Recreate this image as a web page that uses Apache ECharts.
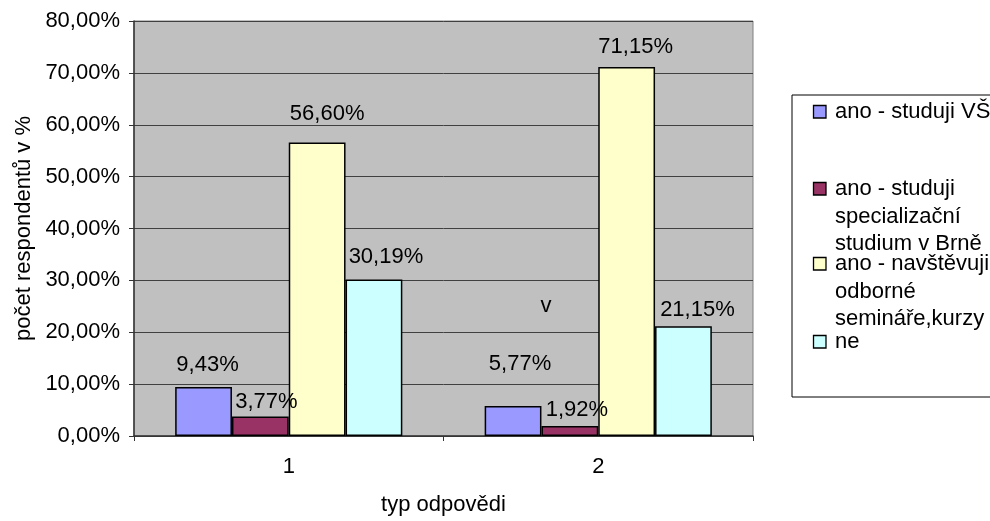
<!DOCTYPE html>
<html>
<head>
<meta charset="utf-8">
<script src="https://cdn.jsdelivr.net/npm/echarts@6/dist/echarts.min.js"></script>
<style>
  html, body { margin: 0; padding: 0; background: #fff; }
  #chart { width: 990px; height: 521px; }
</style>
</head>
<body>
<div id="chart"></div>
<script>
// Answer types on the x axis
const categories = ['1', '2'];

// Series names (legend text, wrapped as shown in the legend box)
const seriesNames = [
  'ano - studuji VŠ',
  'ano - studuji\nspecializační\nstudium v Brně',
  'ano - navštěvuji\nodborné\nsemináře,kurzy',
  'ne'
];

// Share of respondents in percent, per answer type
const studujiVS = [9.43, 5.77];
const specializacni = [3.77, 1.92];
const seminare = [56.60, 71.15];
const ne = [30.19, 21.15];

const seriesValues = [studujiVS, specializacni, seminare, ne];

// Y axis range
const yMin = 0, yMax = 80, yStep = 10;

// Styling
const FONT = 'Liberation Sans, Arial, sans-serif';
const FS = 22;
const colors = ['#9999FF', '#993366', '#FFFFCC', '#CCFFFF'];
// label nudges [dx, dy] per series, per category
const labelOffsets = [
  [[4, -11.5], [7, -31.5]],
  [[6, -4.5], [7, -5.5]],
  [[10, -17.5], [9, -9.5]],
  [[12, -11.5], [14, -5.5]]
];
const legendTop = [105, 182, 257, 335];

const fmtPct = v => v.toFixed(2).replace('.', ',') + '%';

const series = seriesValues.map((vals, i) => ({
  name: seriesNames[i].replace(/\n/g, ' '),
  type: 'bar',
  barGap: '0%',
  barCategoryGap: '26.6%',
  itemStyle: { color: colors[i], borderColor: '#000', borderWidth: 1.5 },
  data: vals.map((v, j) => ({
    value: v,
    label: {
      show: true,
      position: 'top',
      distance: 0,
      offset: labelOffsets[i][j],
      formatter: p => fmtPct(p.value),
      color: '#000',
      fontFamily: FONT,
      fontSize: FS,
      lineHeight: 21
    }
  }))
}));

// Legend drawn as a boxed list on the right
const legendGraphics = [{
  type: 'rect',
  shape: { x: 792, y: 95, width: 220, height: 302 },
  style: { fill: '#fff', stroke: '#000', lineWidth: 1 },
  silent: true
}];
seriesNames.forEach((name, i) => {
  legendGraphics.push({
    type: 'rect',
    shape: { x: 813.5, y: legendTop[i] + 0.5, width: 12.5, height: 12.5 },
    style: { fill: colors[i], stroke: '#000', lineWidth: 1.3 }
  });
  legendGraphics.push({
    type: 'text',
    x: 835,
    y: legendTop[i] + 7 - 13.75,
    style: {
      text: name,
      fill: '#000',
      font: FS + 'px ' + FONT,
      lineHeight: 27.5,
      verticalAlign: 'top'
    }
  });
});
legendGraphics.push({
  type: 'text',
  x: 546, y: 306,
  style: { text: 'v', fill: '#000', font: FS + 'px ' + FONT, align: 'center', verticalAlign: 'middle' }
});

const chart = echarts.init(document.getElementById('chart'), null, { renderer: 'canvas' });
chart.setOption({
  backgroundColor: '#fff',
  animation: false,
  textStyle: { fontFamily: FONT },
  grid: {
    left: 134, right: 237, top: 21, bottom: 84.5,
    show: true, backgroundColor: '#C0C0C0', borderColor: '#808080', borderWidth: 1
  },
  xAxis: {
    type: 'category',
    data: categories,
    name: 'typ odpovědi',
    nameLocation: 'middle',
    nameGap: 58,
    nameTextStyle: { fontSize: FS, color: '#000', fontFamily: FONT },
    axisLine: { lineStyle: { color: '#333', width: 1.5 } },
    axisTick: { show: true, length: 5, lineStyle: { color: '#333' } },
    axisLabel: { margin: 20, fontSize: FS, color: '#000', fontFamily: FONT },
    splitLine: { show: false }
  },
  yAxis: {
    type: 'value',
    min: yMin, max: yMax, interval: yStep,
    name: 'počet respondentů v %',
    nameLocation: 'middle',
    nameGap: 98,
    nameTextStyle: { fontSize: FS, color: '#000', fontFamily: FONT },
    axisLine: { show: true, lineStyle: { color: '#333', width: 1.5 } },
    axisTick: { show: true, length: 5, lineStyle: { color: '#333' } },
    axisLabel: { margin: 14, fontSize: FS, color: '#000', fontFamily: FONT, formatter: v => fmtPct(v) },
    splitLine: { show: true, lineStyle: { color: '#404040', width: 1 } }
  },
  series: series,
  graphic: legendGraphics
});
</script>
</body>
</html>
